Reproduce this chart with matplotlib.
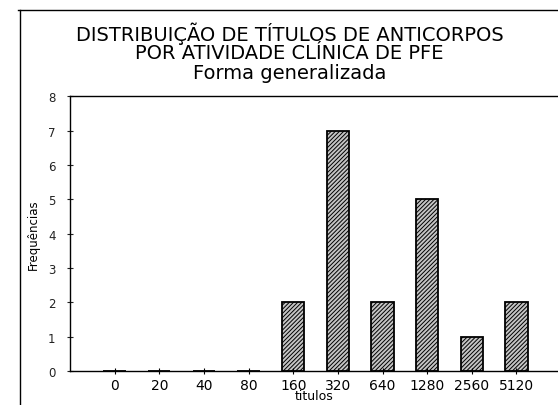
import matplotlib
matplotlib.use('Agg')
import matplotlib.pyplot as plt
from matplotlib.lines import Line2D

# ─────────────────────────────────────────
# DATA
# ─────────────────────────────────────────

titulos = ['0', '20', '40', '80', '160', '320', '640', '1280', '2560', '5120']
frequencias = [0, 0, 0, 0, 2, 7, 2, 5, 1, 2]

# ─────────────────────────────────────────
# PLOT
# ─────────────────────────────────────────

plt.rcParams['hatch.linewidth'] = 0.7

fig = plt.figure(figsize=(5.58, 4.06), dpi=100)
ax = fig.add_axes([0.1254, 0.0837, 0.8746, 0.677])

x = list(range(len(titulos)))
ax.bar(x, frequencias, width=0.5, facecolor='#c4c4c4', edgecolor='black',
       hatch='////////', linewidth=1.3)

ax.set_xlim(-1, 9.93)
ax.set_ylim(0, 8)
ax.set_yticks(range(9))
ax.set_xticks(x)
ax.set_xticklabels(titulos, fontsize=10, family='DejaVu Sans')
ax.tick_params(axis='y', direction='inout', length=5, width=0.8,
               labelsize=8.5, pad=8, colors='#222222')
ax.tick_params(axis='x', direction='inout', length=4, width=0.8,
               labelsize=10, pad=3)
for lbl in ax.get_yticklabels():
    lbl.set_family('Liberation Sans Narrow')

ax.spines['right'].set_visible(False)
for s in ['top', 'left', 'bottom']:
    ax.spines[s].set_linewidth(1.0)

ax.set_xlabel('titulos', fontsize=9, labelpad=-2)
ax.set_ylabel('Frequências', fontsize=8.5, family='Liberation Sans Narrow',
              labelpad=6)

fig.text(0.519, 0.916, 'DISTRIBUIÇÃO DE TÍTULOS DE ANTICORPOS',
         ha='center', va='center', fontsize=14)
fig.text(0.519, 0.868, 'POR ATIVIDADE CLÍNICA DE PFE',
         ha='center', va='center', fontsize=14)
fig.text(0.519, 0.819, 'Forma generalizada',
         ha='center', va='center', fontsize=14)

# moldura externa
fig.add_artist(Line2D([0.036, 0.036], [0.0, 0.973], color='black', lw=1.0))
fig.add_artist(Line2D([0.032, 1.0], [0.973, 0.973], color='black', lw=1.0))

fig.savefig('out.png', dpi=100)
